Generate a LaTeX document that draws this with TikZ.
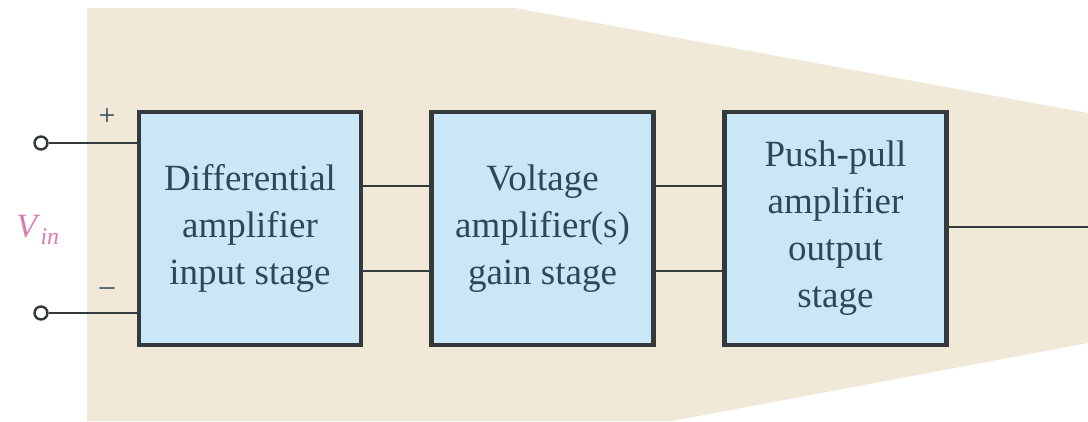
\documentclass[tikz,border=0pt]{standalone}
\usepackage{fontspec}
\setmainfont{Liberation Serif}
\definecolor{bgbeige}{HTML}{F1E9D8}
\definecolor{boxblue}{HTML}{C9E7F7}
\definecolor{edgegrey}{HTML}{343A3C}
\definecolor{textgrey}{HTML}{2F4853}
\definecolor{vinpink}{HTML}{D77DB2}
\begin{document}
\begin{tikzpicture}[x=1pt,y=-1pt,
  stagebox/.style={draw=edgegrey, line width=4.2pt, fill=boxblue, minimum width=222pt, minimum height=233pt,
    text=textgrey, align=center, font=\fontsize{37}{47}\selectfont},
  wire/.style={draw=edgegrey, line width=2.8pt},
  terminal/.style={circle, draw=edgegrey, line width=2.4pt, fill=white, minimum size=13pt, inner sep=0pt},
  sign/.style={text=textgrey, font=\fontsize{30}{30}\selectfont, inner sep=0pt}]
\useasboundingbox (0,0) rectangle (1088,421);
\fill[white] (0,0) rectangle (1088,421);
\fill[bgbeige] (87,8) -- (515,8) -- (1088,113) -- (1088,343) -- (672,421) -- (87,421) -- cycle;
\node[stagebox] (b1) at (250,228.5) {Differential\\amplifier\\input stage};
\node[stagebox] (b2) at (542.5,228.5) {Voltage\\amplifier(s)\\gain stage};
\node[stagebox] (b3) at (835.5,228.5) {Push-pull\\amplifier\\output\\stage};
\node[terminal] (tp) at (41,143) {};
\node[terminal] (tm) at (41,313) {};
\coordinate (out) at (1088,227);
\draw[wire] (tp.east) -- (b1.west |- tp);
\draw[wire] (tm.east) -- (b1.west |- tm);
\draw[wire] (b1.east |- 0,186) -- (b2.west |- 0,186);
\draw[wire] (b1.east |- 0,271) -- (b2.west |- 0,271);
\draw[wire] (b2.east |- 0,186) -- (b3.west |- 0,186);
\draw[wire] (b2.east |- 0,271) -- (b3.west |- 0,271);
\draw[wire] (b3.east |- out) -- (out);
\node[sign] (plus) at (107,117) {+};
\node[sign] (minus) at (107,292) {\textendash};
\node[text=vinpink, font=\fontsize{34}{34}\selectfont] (vin) at (38,230) {\textit{V}\textsubscript{\textit{in}}};
\end{tikzpicture}
\end{document}
